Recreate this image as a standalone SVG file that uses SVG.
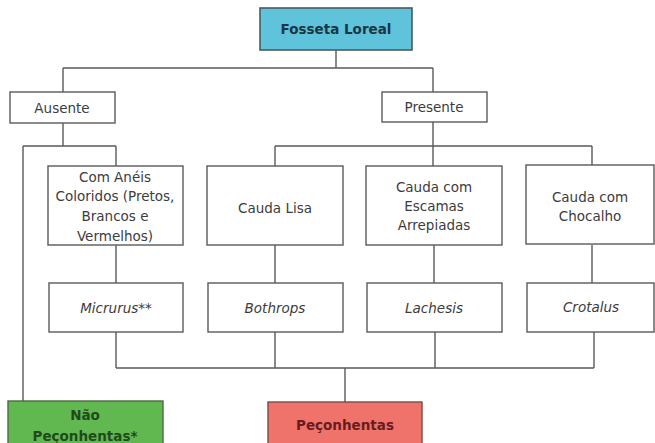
<svg xmlns="http://www.w3.org/2000/svg" width="655" height="443" viewBox="0 0 655 443">
<style>
.box{fill:#ffffff;stroke:#5a5a5a;stroke-width:1.4}
.t{font-family:"DejaVu Sans","Liberation Sans",sans-serif;font-size:13.5px;fill:#3c3c3c;text-anchor:middle;dominant-baseline:central}
.i{font-style:italic}
.b{font-weight:bold}
.conn{fill:none;stroke:#5a5a5a;stroke-width:1.4}
</style>
<rect width="655" height="443" fill="#ffffff"/>
<g id="connectors">
<path class="conn" d="M336 50V68M63 68H433M63 68V92M433 68V92"/>
<path class="conn" d="M63 123V146M23 146H116M23 146V401M116 146V166"/>
<path class="conn" d="M433 122V166M275 146H592M275 146V166M592 146V166"/>
<path class="conn" d="M116 245V283M275 245V283M434 245V283M592 245V283"/>
<path class="conn" d="M116 332V368M275 332V368M435 332V368M594 332V368M116 368H594M345 368V402"/>
</g>
<g id="fosseta">
<rect x="260" y="8" width="152" height="42" fill="#5fc3db" stroke="#4a5a60" stroke-width="1.6"/>
<text class="t b" x="336" y="29" fill="#1d3545" style="fill:#1d3545">Fosseta Loreal</text>
</g>
<g id="ausente">
<rect class="box" x="10" y="92" width="105" height="31"/>
<text class="t" x="62" y="108">Ausente</text>
</g>
<g id="presente">
<rect class="box" x="382" y="92" width="105" height="30"/>
<text class="t" x="434" y="107">Presente</text>
</g>
<g id="aneis">
<rect class="box" x="48" y="166" width="135" height="79"/>
<text class="t" x="115" y="177">Com Anéis</text>
<text class="t" x="115" y="196">Coloridos (Pretos,</text>
<text class="t" x="115" y="216">Brancos e</text>
<text class="t" x="115" y="236">Vermelhos)</text>
</g>
<g id="lisa">
<rect class="box" x="207" y="166" width="136" height="79"/>
<text class="t" x="275" y="208">Cauda Lisa</text>
</g>
<g id="escamas">
<rect class="box" x="366" y="166" width="136" height="79"/>
<text class="t" x="434" y="187">Cauda com</text>
<text class="t" x="434" y="206">Escamas</text>
<text class="t" x="434" y="225">Arrepiadas</text>
</g>
<g id="chocalho">
<rect class="box" x="526" y="165" width="128" height="79"/>
<text class="t" x="590" y="197">Cauda com</text>
<text class="t" x="590" y="216">Chocalho</text>
</g>
<g id="micrurus">
<rect class="box" x="49" y="283" width="134" height="49"/>
<text class="t i" x="116" y="308">Micrurus**</text>
</g>
<g id="bothrops">
<rect class="box" x="208" y="283" width="135" height="49"/>
<text class="t i" x="275" y="308">Bothrops</text>
</g>
<g id="lachesis">
<rect class="box" x="367" y="283" width="135" height="49"/>
<text class="t i" x="434" y="308">Lachesis</text>
</g>
<g id="crotalus">
<rect class="box" x="527" y="283" width="127" height="49"/>
<text class="t i" x="591" y="307">Crotalus</text>
</g>
<g id="nao">
<rect x="8" y="401" width="155" height="48" fill="#62b850" stroke="#4f6a45" stroke-width="1.4"/>
<text class="t b" x="85" y="415" style="fill:#1f4a1c">Não</text>
<text class="t b" x="85" y="436" style="fill:#1f4a1c">Peçonhentas*</text>
</g>
<g id="peconhentas">
<rect x="268" y="402" width="154" height="48" fill="#f0736b" stroke="#7a4a45" stroke-width="1.4"/>
<text class="t b" x="345" y="425" style="fill:#6a1c1c">Peçonhentas</text>
</g>
</svg>
